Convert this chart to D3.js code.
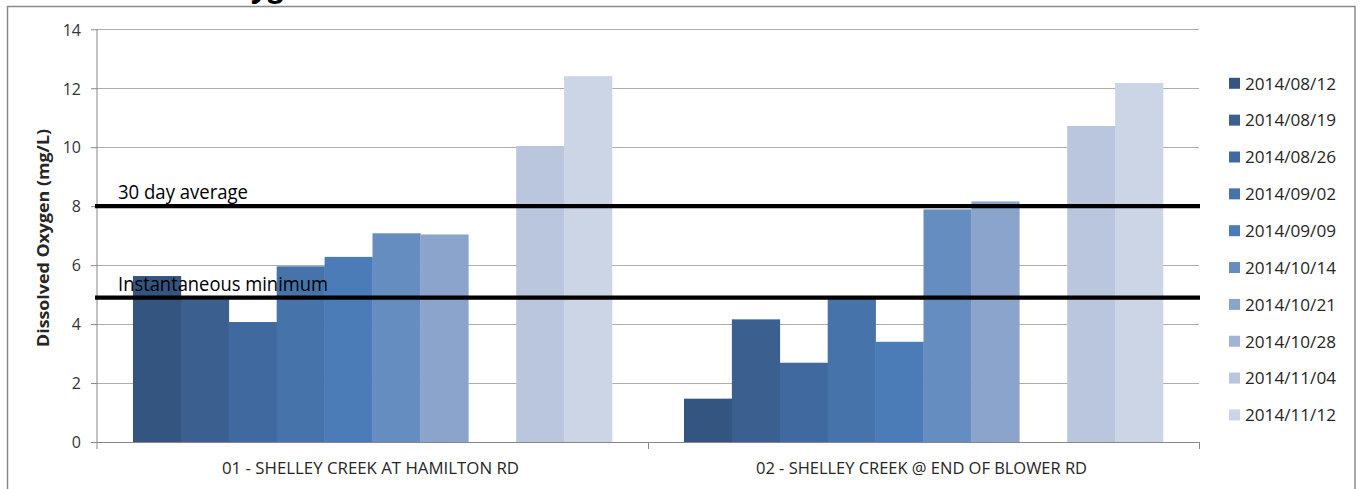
<!DOCTYPE html>
<html>
<head>
<meta charset="utf-8">
<script src="https://cdn.jsdelivr.net/npm/d3@7"></script>
<style>
  html, body { margin: 0; padding: 0; background: #fff; }
  svg { display: block; }
  text { font-family: "Open Sans", "Liberation Sans", sans-serif; }
</style>
</head>
<body>
<svg id="chart" width="1360" height="489"></svg>
<script>
// ---- data ----
const categories = ["01 - SHELLEY CREEK AT HAMILTON RD", "02 - SHELLEY CREEK @ END OF BLOWER RD"];
const dates = ["2014/08/12", "2014/08/19", "2014/08/26", "2014/09/02", "2014/09/09",
               "2014/10/14", "2014/10/21", "2014/10/28", "2014/11/04", "2014/11/12"];
const site1Values = [5.63, 4.84, 4.07, 5.96, 6.28, 7.08, 7.04, null, 10.04, 12.41];
const site2Values = [1.47, 4.16, 2.69, 4.9, 3.40, 7.89, 8.16, null, 10.72, 12.18];
const seriesColors = ["#34557f", "#3b5f8e", "#406a9f", "#4673aa", "#4b7cb8",
                      "#668dc0", "#8aa4cb", "#a1b3d6", "#b9c6de", "#ccd5e6"];
const yTicks = [0, 2, 4, 6, 8, 10, 12, 14];
const refLabels = ["30 day average", "Instantaneous minimum"];
const refValues = [8, 4.9];
const yTitle = "Dissolved Oxygen (mg/L)";
const chartTitle = "Dissolved Oxygen";

const siteValues = [site1Values, site2Values];

// ---- layout ----
const svg = d3.select("#chart");
const plot = { left: 97, right: 1199, top: 29.3, bottom: 442 };

const y = d3.scaleLinear().domain([0, 14]).range([plot.bottom, plot.top]);
const x0 = d3.scaleBand().domain(categories).range([plot.left, plot.right]).padding(0);
const bw0 = x0.bandwidth();
const groupGap = bw0 * 0.0653;
const x1 = d3.scaleBand().domain(dates).range([groupGap, bw0 - groupGap]).padding(0);

// outer border
svg.append("rect").attr("x", 7.5).attr("y", 6.5).attr("width", 1347.5).attr("height", 520)
  .attr("fill", "none").attr("stroke", "#8a8a8a").attr("stroke-width", 1.5);

// cropped title (only a descender is visible in the reference)
const title = svg.append("text").attr("y", -3).attr("font-size", 30).attr("font-weight", "bold")
  .attr("font-style", "italic").attr("fill", "#000").text(chartTitle);
(function () {
  const tmp = svg.append("text").attr("font-size", 30).attr("font-weight", "bold")
    .attr("font-style", "italic").text("Dissolved Ox");
  const w = tmp.node().getComputedTextLength();
  tmp.remove();
  title.attr("x", 254 - w);
})();

// gridlines
svg.append("g").selectAll("line").data(yTicks.filter(d => d > 0)).join("line")
  .attr("x1", plot.left).attr("x2", plot.right)
  .attr("y1", d => Math.round(y(d)) + 0.5).attr("y2", d => Math.round(y(d)) + 0.5)
  .attr("stroke", "#adadad").attr("stroke-width", 1.2);

// bars
const groups = svg.append("g").selectAll("g").data(categories).join("g")
  .attr("transform", d => `translate(${x0(d)},0)`);
groups.selectAll("rect")
  .data((c, ci) => dates.map((dt, i) => ({ date: dt, value: siteValues[ci][i], color: seriesColors[i] }))
    .filter(d => d.value != null))
  .join("rect")
  .attr("x", d => x1(d.date))
  .attr("width", x1.bandwidth() + 0.3)
  .attr("y", d => y(d.value))
  .attr("height", d => y(0) - y(d.value))
  .attr("fill", d => d.color);

// y axis
const yAxis = d3.axisLeft(y).tickValues(yTicks).tickSize(6).tickPadding(10);
const gy = svg.append("g").attr("transform", `translate(${plot.left},0)`).call(yAxis);
gy.select(".domain").attr("stroke", "#868686").attr("d", `M0,${plot.top}V${plot.bottom + 7}`);
gy.selectAll(".tick line").attr("stroke", "#868686");
gy.selectAll(".tick text").attr("font-size", 16).attr("fill", "#333")
  .attr("font-family", "'Open Sans', sans-serif").attr("x", -16).attr("dy", "0.36em");

// x axis
const gx = svg.append("g");
gx.append("line").attr("x1", plot.left - 6).attr("x2", plot.right)
  .attr("y1", plot.bottom + 0.5).attr("y2", plot.bottom + 0.5).attr("stroke", "#868686");
const dividers = categories.map(c => x0(c) + bw0);
gx.selectAll("line.div").data(dividers).join("line").attr("class", "div")
  .attr("x1", d => Math.round(d) + 0.5).attr("x2", d => Math.round(d) + 0.5)
  .attr("y1", plot.bottom).attr("y2", plot.bottom + 7).attr("stroke", "#868686");
const catLabelWidths = [297, 331];
gx.selectAll("text").data(categories).join("text")
  .attr("x", d => x0(d) + bw0 / 2 - 2)
  .attr("y", 474)
  .attr("text-anchor", "middle")
  .attr("font-size", 16)
  .attr("fill", "#262626")
  .attr("textLength", (d, i) => catLabelWidths[i])
  .attr("lengthAdjust", "spacingAndGlyphs")
  .text(d => d);

// reference lines
svg.append("g").selectAll("line").data(refValues).join("line")
  .attr("x1", plot.left - 2).attr("x2", plot.right + 1)
  .attr("y1", d => y(d)).attr("y2", d => y(d))
  .attr("stroke", "#000").attr("stroke-width", 4.2);
const refLabelWidths = [130, 210];
const refLabelOffsets = [7, 6.5];
svg.append("g").selectAll("text").data(refLabels).join("text")
  .attr("x", 118)
  .attr("y", (d, i) => y(refValues[i]) - refLabelOffsets[i])
  .attr("font-size", 20)
  .attr("fill", "#000")
  .attr("textLength", (d, i) => refLabelWidths[i])
  .attr("lengthAdjust", "spacingAndGlyphs")
  .text(d => d);

// y axis title
svg.append("text")
  .attr("transform", "translate(49,238) rotate(-90)")
  .attr("text-anchor", "middle")
  .attr("font-size", 16.5)
  .attr("font-weight", "bold")
  .attr("fill", "#262626")
  .attr("textLength", 218)
  .attr("lengthAdjust", "spacingAndGlyphs")
  .text(yTitle);

// legend
const legend = svg.append("g").selectAll("g").data(dates).join("g")
  .attr("transform", (d, i) => `translate(1229,${83.3 + i * 36.85})`);
legend.append("rect").attr("x", 0).attr("y", -5.5).attr("width", 11).attr("height", 11)
  .attr("fill", (d, i) => seriesColors[i]);
legend.append("text").attr("x", 16).attr("y", 6.3)
  .attr("font-size", 17).attr("fill", "#262626")
  .attr("textLength", 91).attr("lengthAdjust", "spacingAndGlyphs")
  .text(d => d);
</script>
</body>
</html>
